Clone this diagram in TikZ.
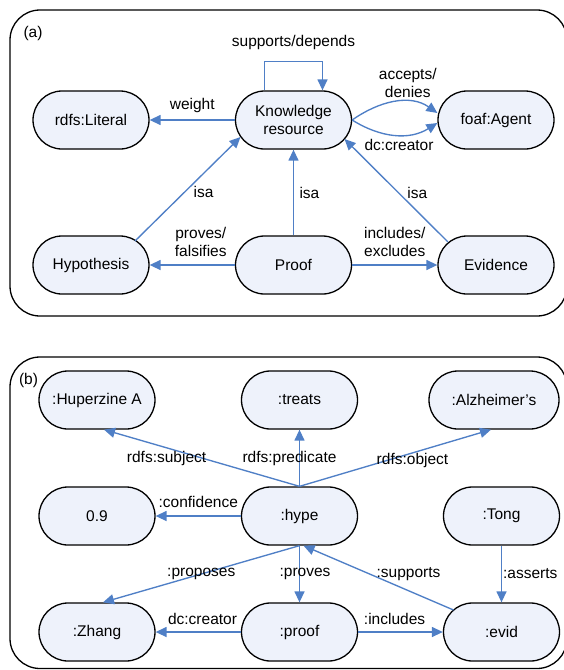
\documentclass[tikz,border=0pt]{standalone}
\usepackage{fontspec}
\setmainfont{Liberation Sans}
\usepackage{tikz}
\usetikzlibrary{positioning,arrows.meta}
\definecolor{linkBlue}{HTML}{4F7FC6}
\definecolor{termFill}{HTML}{EEF2FB}

\begin{document}
\begin{tikzpicture}[x=1pt,y=-1pt,font=\fontsize{15.5}{18.5}\selectfont,
      term/.style={draw,line width=1.3pt,fill=termFill,rounded corners=29pt,
        minimum width=116pt,minimum height=58pt,align=center,inner sep=2pt},
      link/.style={draw=linkBlue,line width=1.35pt,-{Triangle[length=11pt,width=10pt]}},
      panel/.style={draw,line width=1.3pt,rounded corners=30pt}]
    \useasboundingbox (0,0) rectangle (564,670);
    % panel (a)
    \draw[panel] (10,10) rectangle (567,316);
    \node (tagA) at (33,33) {(a)};
    \node[term] (lit) at (91,120) {rdfs:Literal};
    \node[term] (kr) at (293.5,120) {Knowledge\\resource};
    \node[term] (agent) at (496,120) {foaf:Agent};
    \node[term] (hyp) at (91,265) {Hypothesis};
    \node[term] (proof) at (293.5,265) {Proof};
    \node[term] (ev) at (496,265) {Evidence};
    \draw[link] (kr) -- node[above=3.5pt] {weight} (lit);
    \draw[link] ([xshift=-29pt]kr.north) -- ++(0,-29) -| node[pos=.25,above=8pt] {supports/depends} ([xshift=29pt]kr.north);
    \draw[link] (kr.east) to[out=35,in=145] node[pos=.65,above,align=center] {accepts/\\denies} ([yshift=7pt]agent.west);
    \draw[link] (kr.east) to[out=-32,in=-148] node[pos=.55,below] {dc:creator} ([yshift=-3pt]agent.west);
    \draw[link] ([shift={(44,-24)}]hyp.center) -- node[pos=.47,right=5pt] {isa} ([shift={(-53,17)}]kr.center);
    \draw[link] (proof) -- node[right=2pt] {isa} (kr);
    \draw[link] ([shift={(-48,-23)}]ev.center) -- node[pos=.48,right=5pt] {isa} ([shift={(51,19)}]kr.center);
    \draw[link] (proof) -- node[pos=.4,above=4pt,align=center] {proves/\\falsifies} (hyp);
    \draw[link] (proof) -- node[above=4pt,align=center] {includes/\\excludes} (ev);
    % panel (b)
    \draw[panel] (10,357) rectangle (567,668.5);
    \node (tagB) at (28.5,380) {(b)};
    \node[term] (hup) at (97,400) {:Huperzine A};
    \node[term] (treats) at (299.5,400) {:treats};
    \node[term,minimum width=130pt] (alz) at (494,400) {:Alzheimer’s};
    \node[term] (conf) at (97,516) {0.9};
    \node[term] (hype) at (299.5,516) {:hype};
    \node[term] (tong) at (501.5,516) {:Tong};
    \node[term] (zhang) at (97,632) {:Zhang};
    \node[term] (prf) at (299.5,632) {:proof};
    \node[term] (evid) at (501.5,632) {:evid};
    \draw[link] (hype.north) -- node[pos=.68,below=3pt,inner sep=0pt] {rdfs:subject} ([xshift=7pt]hup.south);
    \draw[link] (hype) -- node[xshift=-10pt] {rdfs:predicate} (treats);
    \draw[link] (hype.north) -- node[pos=.59,below,inner sep=0pt] {rdfs:object} ([xshift=-3pt]alz.south);
    \draw[link] (hype) -- node[above=4pt] {:confidence} (conf);
    \draw[link] (hype.south) -- node {:proposes} ([xshift=6pt]zhang.north);
    \draw[link] (hype) -- node[xshift=5.5pt] {:proves} (prf);
    \draw[link] ([shift={(-48,-22)}]evid.center) -- node[pos=.3,above=6pt] {:supports} ([xshift=4pt]hype.south);
    \draw[link] (tong) -- node[right,inner sep=1pt] {:asserts} (evid);
    \draw[link] (prf) -- node[pos=.45,above=3pt] {dc:creator} (zhang);
    \draw[link] (prf) -- node[pos=.43,above=3pt] {:includes} (evid);
  \end{tikzpicture}
\end{document}
